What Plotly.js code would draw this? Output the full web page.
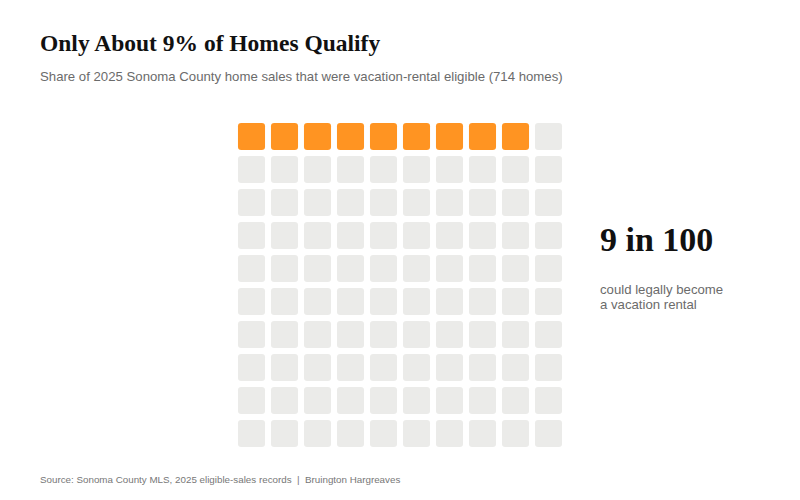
<!DOCTYPE html>
<html>
<head>
<meta charset="utf-8">
<script src="https://cdn.plot.ly/plotly-3.0.1.min.js"></script>
<style>
  body { margin: 0; background: #fff; }
  #chart { width: 800px; height: 500px; }
</style>
</head>
<body>
<div id="chart"></div>
<script>
// waffle data: 100 cells, filled row by row from the top left
const categories = ['Vacation-rental eligible', 'Not eligible'];
const cellCounts = [9, 91];
const categoryColors = ['#FF9422', '#EBEBE9'];
const gridCols = 10;
const gridRows = 10;

const W = 800, H = 500;
const M = { l: 235, r: 235, t: 120, b: 50 };

// pixel helpers for text placed around the grid
// (annotations draw ~2px right of their anchor, so pull them back)
const px = (x) => (x - 2 - M.l) / (W - M.l - M.r);
const py = (y) => 1 - (y - M.t) / (H - M.t - M.b);

// one entry per cell -> category index
let cells = [];
cellCounts.forEach((n, ci) => {
    for (let i = 0; i < n; i++) cells.push(ci);
});

// rounded squares as shapes in data units (one unit per cell)
const half = 0.41, rad = 0.1;
function roundedRect(cx, cy) {
    const x0 = cx - half, x1 = cx + half, y0 = cy - half, y1 = cy + half;
    return `M${x0 + rad},${y0} L${x1 - rad},${y0} Q${x1},${y0} ${x1},${y0 + rad} ` +
        `L${x1},${y1 - rad} Q${x1},${y1} ${x1 - rad},${y1} ` +
        `L${x0 + rad},${y1} Q${x0},${y1} ${x0},${y1 - rad} ` +
        `L${x0},${y0 + rad} Q${x0},${y0} ${x0 + rad},${y0} Z`;
}

const shapes = cells.map((ci, i) => {
    const col = i % gridCols;
    const row = Math.floor(i / gridCols);
    return {
        type: 'path', xref: 'x', yref: 'y', layer: 'above',
        path: roundedRect(col + 0.5, row + 0.5),
        fillcolor: categoryColors[ci],
        line: { width: 0 }
    };
});

// invisible trace so the axes and hover exist
const trace = {
    x: cells.map((c, i) => (i % gridCols) + 0.5),
    y: cells.map((c, i) => Math.floor(i / gridCols) + 0.5),
    text: cells.map((c) => categories[c]),
    mode: 'markers',
    type: 'scatter',
    marker: { size: 26, opacity: 0 },
    hoverinfo: 'text',
    showlegend: false
};

const sans = 'Liberation Sans, Arial, sans-serif';
const serif = 'Liberation Serif, Times New Roman, serif';

const eligible = cellCounts[0];
const total = cellCounts.reduce((a, b) => a + b, 0);

const layout = {
    width: W, height: H,
    margin: M,
    paper_bgcolor: '#ffffff',
    plot_bgcolor: '#ffffff',
    title: {
        text: '<b>Only About 9% of Homes Qualify</b>',
        xref: 'container', yref: 'container',
        x: 40 / W, xanchor: 'left',
        y: 1 - 43 / H, yanchor: 'middle',
        font: { family: serif, size: 23.5, color: '#111111' }
    },
    xaxis: { range: [0, gridCols], visible: false, fixedrange: true },
    yaxis: { range: [gridRows, 0], visible: false, fixedrange: true },
    shapes: shapes,
    annotations: [
        {
            text: 'Share of 2025 Sonoma County home sales that were vacation-rental eligible (714 homes)',
            xref: 'paper', yref: 'paper', x: px(40), y: py(77),
            xanchor: 'left', yanchor: 'middle', showarrow: false,
            font: { family: sans, size: 13.2, color: '#6b6b6b' }
        },
        {
            text: `<b>${eligible} in ${total}</b>`,
            xref: 'paper', yref: 'paper', x: px(600), y: py(239),
            xanchor: 'left', yanchor: 'middle', showarrow: false,
            font: { family: serif, size: 34, color: '#111111' }
        },
        {
            text: 'could legally become',
            xref: 'paper', yref: 'paper', x: px(600), y: py(289.5),
            xanchor: 'left', yanchor: 'middle', showarrow: false,
            font: { family: sans, size: 13.2, color: '#6b6b6b' }
        },
        {
            text: 'a vacation rental',
            xref: 'paper', yref: 'paper', x: px(600), y: py(304),
            xanchor: 'left', yanchor: 'middle', showarrow: false,
            font: { family: sans, size: 13.2, color: '#6b6b6b' }
        },
        {
            text: 'Source: Sonoma County MLS, 2025 eligible-sales records  |  Bruington Hargreaves',
            xref: 'paper', yref: 'paper', x: px(40), y: py(479),
            xanchor: 'left', yanchor: 'middle', showarrow: false,
            font: { family: sans, size: 9.8, color: '#777777' }
        }
    ]
};

Plotly.newPlot('chart', [trace], layout, { displayModeBar: false, staticPlot: true });
</script>
</body>
</html>
